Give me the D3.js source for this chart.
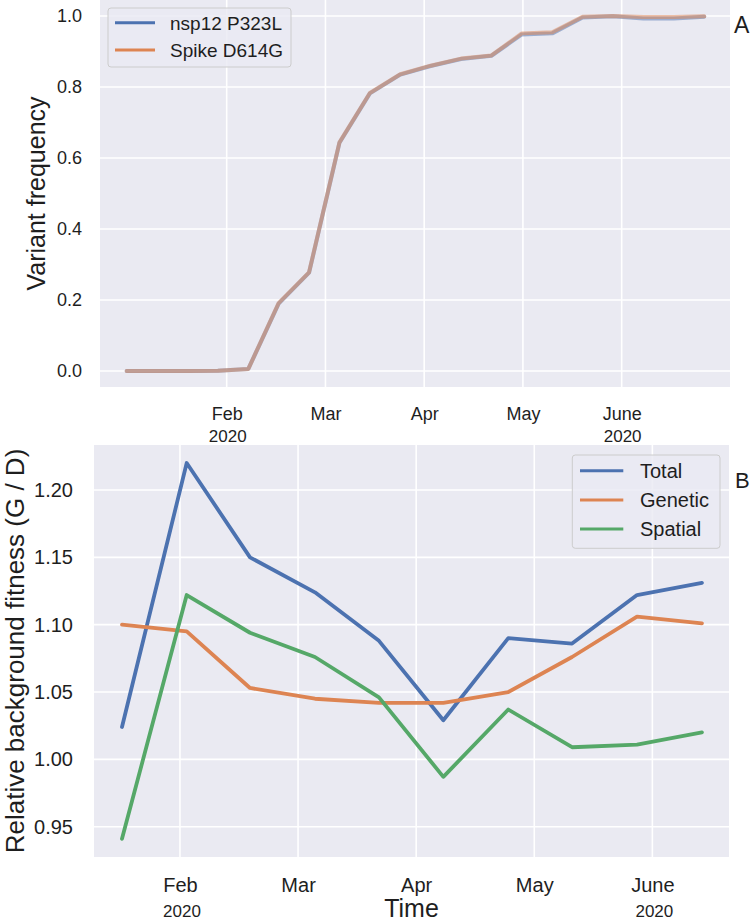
<!DOCTYPE html>
<html>
<head>
<meta charset="utf-8">
<script src="https://cdn.jsdelivr.net/npm/d3@7"></script>
<style>
  body { margin: 0; background: #ffffff; }
  svg { display: block; font-family: "Liberation Sans", Arial, Helvetica, sans-serif; }
</style>
</head>
<body>
<svg id="chart" width="750" height="923"></svg>
<script>
// ---------- DATA ----------
// Month index: 1 = Feb, 2 = Mar, 3 = Apr, 4 = May, 5 = June (2020)
const monthTicks  = [1, 2, 3, 4, 5];
const monthLabels = ["Feb", "Mar", "Apr", "May", "June"];
const yearLabels  = ["2020", "", "", "", "2020"];

// Panel A
const topTime = [-0.013, 0.295, 0.603, 0.911, 1.219, 1.526, 1.834, 2.142, 2.450, 2.758,
                 3.065, 3.373, 3.681, 3.989, 4.297, 4.604, 4.912, 5.220, 5.528, 5.836];
const nsp12Freq = [0, 0, 0, 0.001, 0.006, 0.190, 0.277, 0.643, 0.782, 0.835,
                   0.859, 0.879, 0.888, 0.948, 0.951, 0.996, 0.999, 0.993, 0.993, 0.998];
const spikeFreq = [0, 0, 0, 0.001, 0.006, 0.191, 0.278, 0.644, 0.783, 0.836,
                   0.860, 0.880, 0.889, 0.951, 0.954, 0.998, 1.000, 0.997, 0.997, 0.999];
const topYTicks = [0.0, 0.2, 0.4, 0.6, 0.8, 1.0];
const topSeriesNames = ["nsp12 P323L", "Spike D614G"];

// Panel B
const botTime  = [0.509, 1.057, 1.593, 2.143, 2.685, 3.230, 3.780, 4.320, 4.870, 5.420];
const total    = [1.024, 1.220, 1.150, 1.124, 1.088, 1.029, 1.090, 1.086, 1.122, 1.131];
const genetic  = [1.100, 1.095, 1.053, 1.045, 1.042, 1.042, 1.050, 1.076, 1.106, 1.101];
const spatial  = [0.941, 1.122, 1.094, 1.076, 1.046, 0.987, 1.037, 1.009, 1.011, 1.020];
const botYTicks = [0.95, 1.00, 1.05, 1.10, 1.15, 1.20];
const botSeriesNames = ["Total", "Genetic", "Spatial"];

// ---------- STYLE ----------
const BG = "#eaeaf2", TXT = "#1e1e1e";
const BLUE = "#4c72b0", ORANGE = "#dd8452", GREEN = "#55a868";

const svg = d3.select("#chart");

// ---------- PANEL A ----------
const A = { left: 100, right: 730, top: 0, bottom: 387 };
const xA = d3.scaleLinear().domain([-0.283, 6.097]).range([A.left, A.right]);
const yA = d3.scaleLinear().domain([-0.045, 1.045]).range([A.bottom, A.top]);

const gA = svg.append("g");
gA.append("rect").attr("x", A.left).attr("y", A.top)
  .attr("width", A.right - A.left).attr("height", A.bottom - A.top).attr("fill", BG);

// grid
gA.append("g").selectAll("line").data(topYTicks).join("line")
  .attr("x1", A.left).attr("x2", A.right)
  .attr("y1", d => yA(d)).attr("y2", d => yA(d))
  .attr("stroke", "#fff").attr("stroke-width", 1.6);
gA.append("g").selectAll("line").data(monthTicks).join("line")
  .attr("x1", d => xA(d)).attr("x2", d => xA(d))
  .attr("y1", A.top).attr("y2", A.bottom)
  .attr("stroke", "#fff").attr("stroke-width", 1.6);

// axes
const axYA = gA.append("g").attr("transform", `translate(${A.left},0)`)
  .call(d3.axisLeft(yA).tickValues(topYTicks).tickFormat(d3.format(".1f")).tickSize(0).tickPadding(18));
axYA.select(".domain").remove();
axYA.selectAll("text").attr("font-size", 18).attr("fill", TXT).attr("font-family", "Liberation Sans, Arial, sans-serif");

const axXA = gA.append("g").attr("transform", `translate(0,${A.bottom})`)
  .call(d3.axisBottom(xA).tickValues(monthTicks).tickFormat((d, i) => monthLabels[i]).tickSize(0).tickPadding(20));
axXA.select(".domain").remove();
axXA.selectAll("text").attr("font-size", 18).attr("fill", TXT).attr("font-family", "Liberation Sans, Arial, sans-serif");

gA.append("g").selectAll("text").data(monthTicks.filter((d, i) => yearLabels[i])).join("text")
  .attr("x", d => xA(d) + 1).attr("y", 441.5)
  .attr("text-anchor", "middle").attr("font-size", 17).attr("fill", TXT)
  .text((d) => yearLabels[monthTicks.indexOf(d)]);

// lines
const lineA = d3.line().x(d => xA(d[0])).y(d => yA(d[1]));
[[nsp12Freq, BLUE], [spikeFreq, ORANGE]].forEach(([vals, col]) => {
  gA.append("path").datum(topTime.map((t, i) => [t, vals[i]]))
    .attr("d", lineA).attr("fill", "none").attr("stroke", col)
    .attr("stroke-width", 4).attr("stroke-opacity", 0.5)
    .attr("stroke-linejoin", "round").attr("stroke-linecap", "round");
});

// y label
gA.append("text").attr("transform", `translate(45,${(A.top + A.bottom) / 2}) rotate(-90)`)
  .attr("text-anchor", "middle").attr("font-size", 25).attr("fill", TXT)
  .text("Variant frequency");

// legend A
const legA = gA.append("g");
legA.append("rect").attr("x", 108).attr("y", 8).attr("width", 183).attr("height", 59)
  .attr("rx", 3).attr("fill", BG).attr("fill-opacity", 0.8)
  .attr("stroke", "#cccccc").attr("stroke-width", 1);
[BLUE, ORANGE].forEach((col, i) => {
  const yy = 22.7 + i * 27.3;
  legA.append("line").attr("x1", 115).attr("x2", 155).attr("y1", yy).attr("y2", yy)
    .attr("stroke", col).attr("stroke-width", 3);
  legA.append("text").attr("x", 170).attr("y", yy + 7).attr("font-size", 19).attr("fill", TXT)
    .text(topSeriesNames[i]);
});

svg.append("text").attr("x", 734).attr("y", 33).attr("font-size", 23).attr("fill", TXT).text("A");

// ---------- PANEL B ----------
const B = { left: 94, right: 729, top: 445, bottom: 857 };
const xB = d3.scaleLinear().domain([0.272, 5.649]).range([B.left, B.right]);
const yB = d3.scaleLinear().domain([0.9275, 1.2334]).range([B.bottom, B.top]);

const gB = svg.append("g");
gB.append("rect").attr("x", B.left).attr("y", B.top)
  .attr("width", B.right - B.left).attr("height", B.bottom - B.top).attr("fill", BG);

gB.append("g").selectAll("line").data(botYTicks).join("line")
  .attr("x1", B.left).attr("x2", B.right)
  .attr("y1", d => yB(d)).attr("y2", d => yB(d))
  .attr("stroke", "#fff").attr("stroke-width", 1.6);
gB.append("g").selectAll("line").data(monthTicks).join("line")
  .attr("x1", d => xB(d)).attr("x2", d => xB(d))
  .attr("y1", B.top).attr("y2", B.bottom)
  .attr("stroke", "#fff").attr("stroke-width", 1.6);

const axYB = gB.append("g").attr("transform", `translate(${B.left},0)`)
  .call(d3.axisLeft(yB).tickValues(botYTicks).tickFormat(d3.format(".2f")).tickSize(0).tickPadding(21));
axYB.select(".domain").remove();
axYB.selectAll("text").attr("font-size", 20).attr("fill", TXT).attr("font-family", "Liberation Sans, Arial, sans-serif");

const axXB = gB.append("g").attr("transform", `translate(0,${B.bottom})`)
  .call(d3.axisBottom(xB).tickValues(monthTicks).tickFormat((d, i) => monthLabels[i]).tickSize(0).tickPadding(20.5));
axXB.select(".domain").remove();
axXB.selectAll("text").attr("font-size", 20).attr("fill", TXT).attr("font-family", "Liberation Sans, Arial, sans-serif");

gB.append("g").selectAll("text").data(monthTicks.filter((d, i) => yearLabels[i])).join("text")
  .attr("x", d => xB(d) + 2).attr("y", 917)
  .attr("text-anchor", "middle").attr("font-size", 17).attr("fill", TXT)
  .text((d) => yearLabels[monthTicks.indexOf(d)]);

const lineB = d3.line().x(d => xB(d[0])).y(d => yB(d[1]));
[[total, BLUE], [genetic, ORANGE], [spatial, GREEN]].forEach(([vals, col]) => {
  gB.append("path").datum(botTime.map((t, i) => [t, vals[i]]))
    .attr("d", lineB).attr("fill", "none").attr("stroke", col)
    .attr("stroke-width", 3.8)
    .attr("stroke-linejoin", "round").attr("stroke-linecap", "round");
});

gB.append("text").attr("transform", `translate(24,${(B.top + B.bottom) / 2}) rotate(-90)`)
  .attr("text-anchor", "middle").attr("font-size", 26).attr("fill", TXT)
  .text("Relative background fitness (G / D)");

gB.append("text").attr("x", (B.left + B.right) / 2).attr("y", 917)
  .attr("text-anchor", "middle").attr("font-size", 25).attr("fill", TXT).text("Time");

const legB = gB.append("g");
legB.append("rect").attr("x", 572.3).attr("y", 455).attr("width", 147.7).attr("height", 93.3)
  .attr("rx", 3).attr("fill", BG).attr("fill-opacity", 0.8)
  .attr("stroke", "#cccccc").attr("stroke-width", 1);
[BLUE, ORANGE, GREEN].forEach((col, i) => {
  const yy = 470.7 + i * 29.2;
  legB.append("line").attr("x1", 580).attr("x2", 623.3).attr("y1", yy).attr("y2", yy)
    .attr("stroke", col).attr("stroke-width", 3);
  legB.append("text").attr("x", 640).attr("y", yy + 7.3).attr("font-size", 20).attr("fill", TXT)
    .text(botSeriesNames[i]);
});

svg.append("text").attr("x", 735).attr("y", 488).attr("font-size", 22).attr("fill", TXT).text("B");
</script>
</body>
</html>
